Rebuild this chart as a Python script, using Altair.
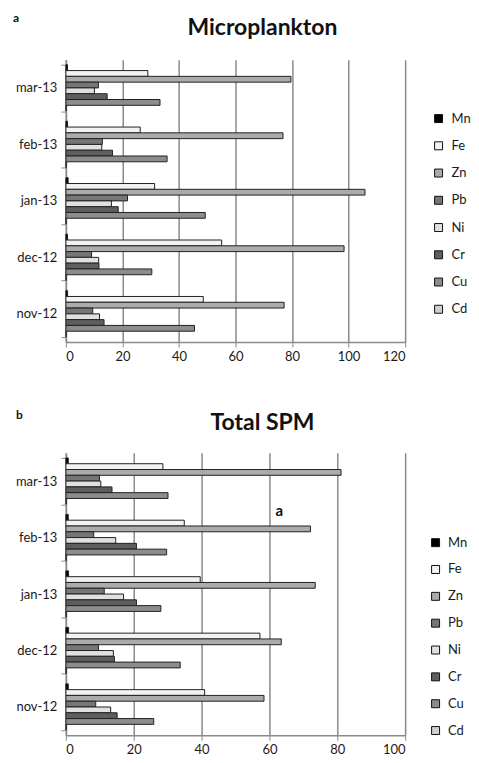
import altair as alt
import pandas as pd

months = ["mar-13", "feb-13", "jan-13", "dec-12", "nov-12"]
metals = ["Mn", "Fe", "Zn", "Pb", "Ni", "Cr", "Cu", "Cd"]
metal_colors = ["#000000", "#f2f2f2", "#ababab", "#767676", "#e0e0e0", "#5e5e5e", "#8c8c8c", "#d0d0d0"]

# Panel a: Microplankton (values in month order above)
micro_Mn = [0.6, 0.6, 0.8, 0.6, 0.6]
micro_Fe = [29.0, 26.3, 31.4, 55.1, 48.6]
micro_Zn = [79.6, 76.8, 105.8, 98.4, 77.2]
micro_Pb = [11.5, 12.9, 21.8, 9.1, 9.5]
micro_Ni = [10.1, 12.7, 16.1, 11.6, 11.9]
micro_Cr = [14.6, 16.5, 18.5, 11.7, 13.5]
micro_Cu = [33.3, 35.8, 49.3, 30.4, 45.5]
micro_Cd = [0.1, 0.1, 0.1, 0.1, 0.1]

# Panel b: Total SPM
spm_Mn = [0.7, 0.7, 0.8, 0.8, 0.7]
spm_Fe = [28.6, 34.9, 39.6, 57.2, 40.9]
spm_Zn = [81.1, 72.1, 73.5, 63.5, 58.4]
spm_Pb = [9.9, 8.2, 11.3, 9.6, 8.8]
spm_Ni = [10.3, 14.7, 17.0, 14.0, 13.2]
spm_Cr = [13.6, 20.8, 20.8, 14.3, 15.1]
spm_Cu = [30.1, 29.7, 28.0, 33.7, 25.9]
spm_Cd = [0.1, 0.1, 0.1, 0.1, 0.1]

micro_ticks = [0, 20, 40, 60, 80, 100, 120]
spm_ticks = [0, 20, 40, 60, 80, 100]

FONT = "Lato"
PLOT_W = 340
PLOT_H = 283


def build_df(series):
    rows = []
    for metal, vals in zip(metals, series):
        for m, v in zip(months, vals):
            rows.append({"month": m, "metal": metal, "value": v})
    return pd.DataFrame(rows)


def text_layer(txt, x, y, size, baseline="middle"):
    return alt.Chart(pd.DataFrame({"t": [txt]})).mark_text(
        font=FONT, fontSize=size, fontWeight="bold", color="#111111", baseline=baseline, align="center"
    ).encode(text="t:N", x=alt.value(x), y=alt.value(y))


def panel(df, title, title_xy, letter, letter_xy, ticks, legend_x, legend_y, label_offset, row_pad, extras):
    xmax = ticks[-1]
    bars = alt.Chart(df).mark_bar(stroke="#222222", strokeWidth=1).encode(
        x=alt.X("value:Q", scale=alt.Scale(domain=[0, xmax], nice=False),
                axis=alt.Axis(values=ticks, title=None, grid=True, gridColor="#8a8a8a", gridWidth=1.5,
                              domainColor="#8a8a8a", domainWidth=1.5, tickColor="#8a8a8a", tickSize=5,
                              labelFontSize=13, labelColor="#1a1a1a", labelFont=FONT, labelPadding=3)),
        y=alt.Y("month:N", sort=months, scale=alt.Scale(paddingInner=0.18, paddingOuter=0.09),
                axis=alt.Axis(title=None, tickBand="extent", domainColor="#8a8a8a", domainWidth=1.5,
                              tickColor="#8a8a8a", tickSize=5, labelPadding=4, labelFontSize=13,
                              labelColor="#1a1a1a", labelFont=FONT)),
        yOffset=alt.YOffset("metal:N", sort=metals),
        fill=alt.Fill("metal:N", sort=metals, scale=alt.Scale(domain=metals, range=metal_colors),
                      legend=alt.Legend(title=None, orient="none", legendX=legend_x, legendY=legend_y,
                                        symbolType="square", symbolSize=64, symbolStrokeColor="#111111",
                                        symbolStrokeWidth=1, labelFontSize=13, labelFont=FONT,
                                        labelColor="#1a1a1a", rowPadding=row_pad, labelOffset=label_offset,
                                        padding=0)),
    )
    layers = [bars,
              text_layer(title, title_xy[0], title_xy[1], 23, baseline="alphabetic"),
              text_layer(letter, letter_xy[0], letter_xy[1], 12)]
    layers.extend(extras)
    return alt.layer(*layers).properties(width=PLOT_W, height=PLOT_H)


micro_df = build_df([micro_Mn, micro_Fe, micro_Zn, micro_Pb, micro_Ni, micro_Cr, micro_Cu, micro_Cd])
spm_df = build_df([spm_Mn, spm_Fe, spm_Zn, spm_Pb, spm_Ni, spm_Cr, spm_Cu, spm_Cd])

sig_label = text_layer("a", 214, 58, 15)
# invisible spacer that shifts panel b slightly right, as in the original layout
spacer = alt.Chart(pd.DataFrame({"t": [0]})).mark_rule(strokeOpacity=0).encode(
    x=alt.value(-57.5), y=alt.value(100), y2=alt.value(120))

top = panel(micro_df, "Microplankton", (197, -25), "a", (-50, -41.5), micro_ticks,
            367, 52.5, 6.5, 13.3, [])
bottom = panel(spm_df, "Total SPM", (197, -23), "b", (-46.7, -38), spm_ticks,
               364, 83.5, 6, 12.9, [sig_label, spacer])

chart = alt.vconcat(top, bottom, spacing=46).resolve_scale(
    fill="independent", x="independent", y="independent"
).resolve_legend(fill="independent").configure_view(stroke=None).properties(
    padding={"left": 0, "top": 3, "right": 0, "bottom": 0}
)

chart.save("out.html", embed_options={"renderer": "svg", "actions": False})
